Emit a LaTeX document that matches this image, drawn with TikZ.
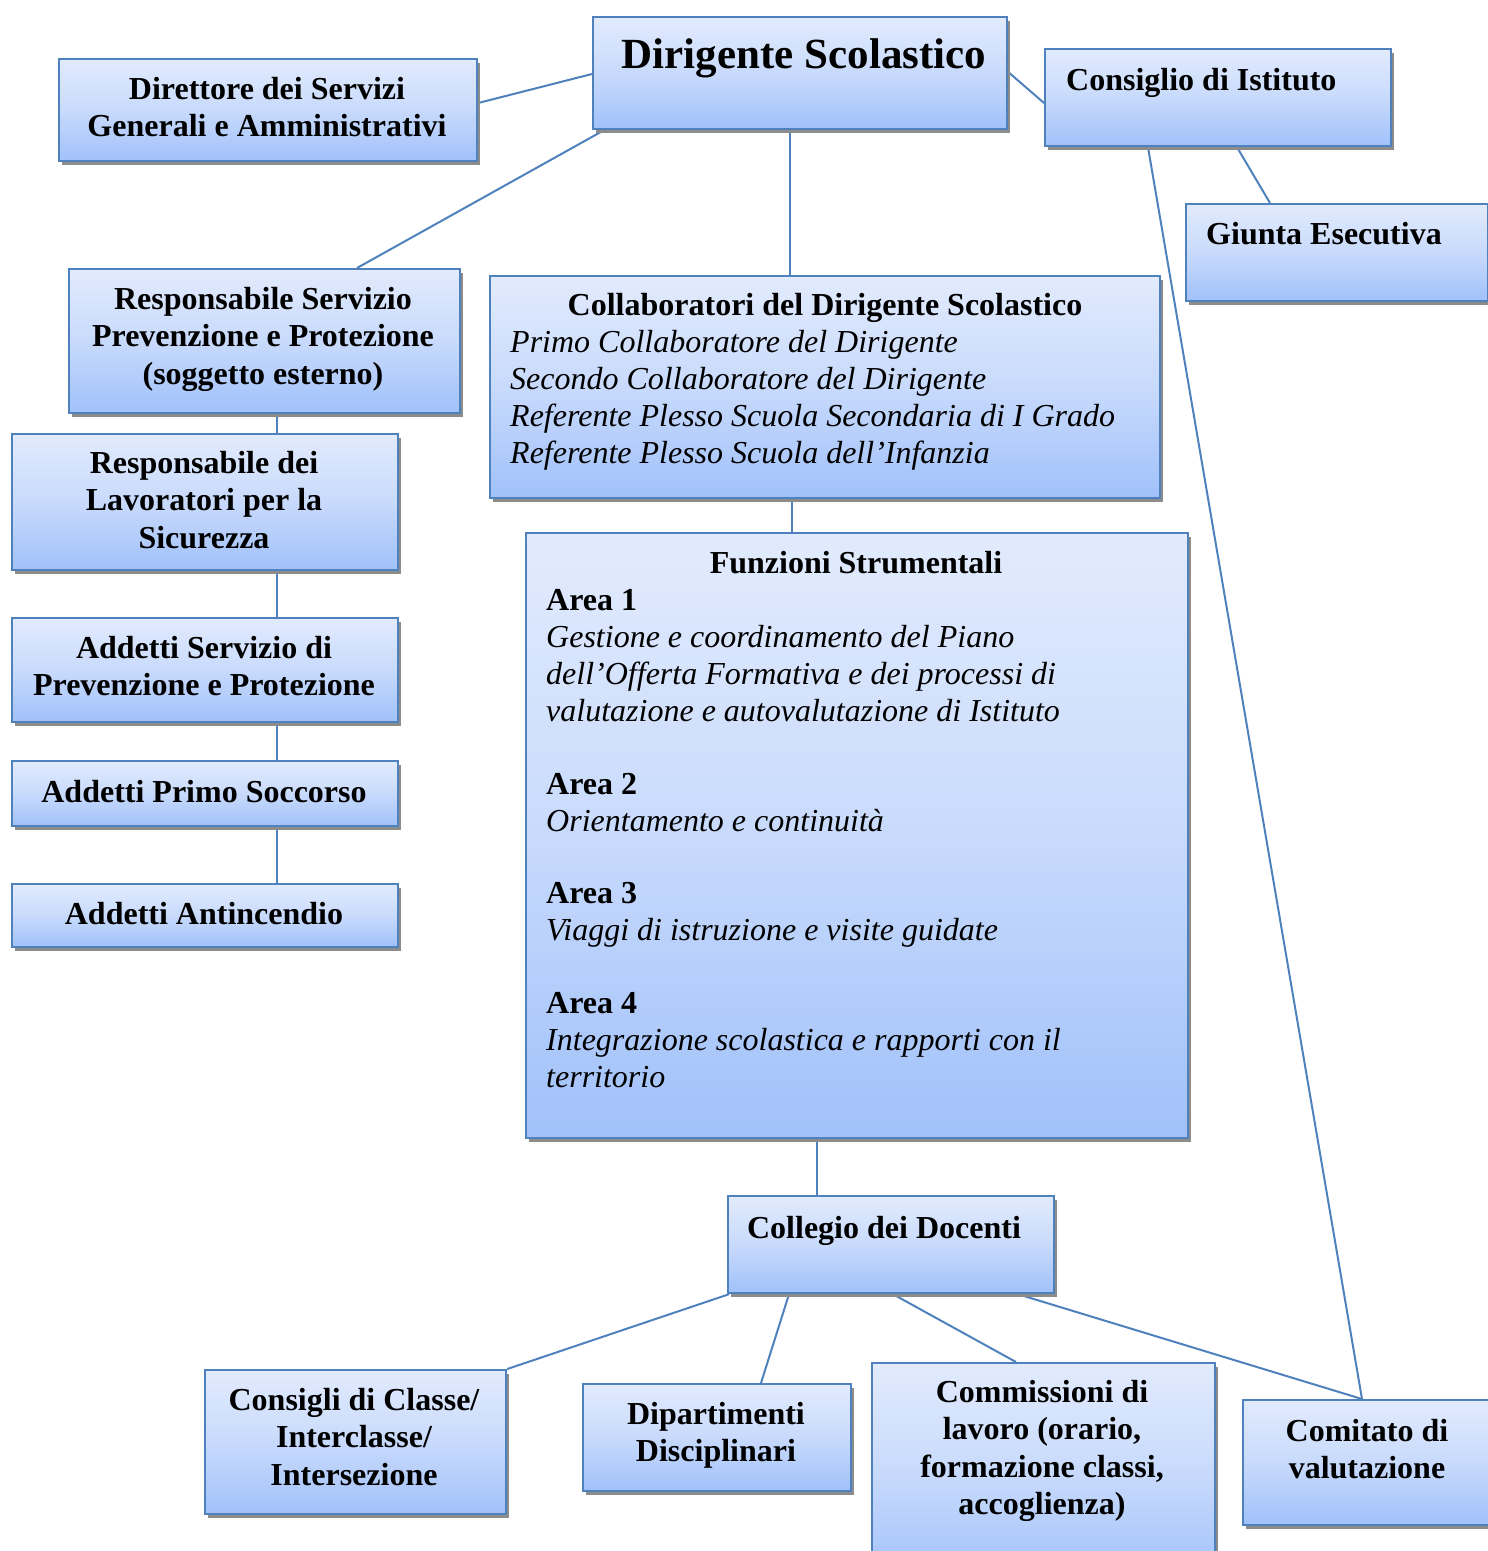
\documentclass[tikz,border=0pt]{standalone}
\usepackage{fontspec}
\setmainfont{Liberation Serif}
\usetikzlibrary{calc,shadows,backgrounds}
\definecolor{bxtop}{RGB}{226,235,253}
\definecolor{bxmid}{RGB}{200,218,252}
\definecolor{bxbot}{RGB}{160,193,250}
\definecolor{bxline}{RGB}{79,129,189}
\definecolor{shad}{RGB}{140,140,140}
\tikzset{
  box/.style={draw=bxline, line width=2.2pt, rectangle, inner sep=0pt, anchor=north west,
    top color=bxtop, bottom color=bxbot, middle color=bxmid,
    drop shadow={shadow xshift=3pt, shadow yshift=-4pt, fill=shad, opacity=1}},
  txt/.style={inner sep=0pt, align=center, anchor=north, font=\fontsize{32}{37.5}\selectfont\bfseries},
  ltxt/.style={inner sep=0pt, align=left, anchor=north west, font=\fontsize{32}{37}\selectfont\mdseries},
  conn/.style={draw=bxline, line width=2pt},
}
\begin{document}
\begin{tikzpicture}[x=1pt,y=-1pt]
\useasboundingbox (0,0) rectangle (1488,1551);
\clip (0,0) rectangle (1488,1551);
% boxes
\node[box, minimum width=414pt, minimum height=112pt] (ds) at (592,16) {};
\node[box, minimum width=418pt, minimum height=102pt] (dsga) at (58,58) {};
\node[box, minimum width=346pt, minimum height=97pt] (ci) at (1044,48) {};
\node[box, minimum width=302pt, minimum height=97pt] (ge) at (1185,203) {};
\node[box, minimum width=391pt, minimum height=144pt] (rspp) at (68,268) {};
\node[box, minimum width=670pt, minimum height=222pt] (coll) at (489,275) {};
\node[box, minimum width=386pt, minimum height=136pt] (rls) at (11,433) {};
\node[box, minimum width=386pt, minimum height=104pt] (aspp) at (11,617) {};
\node[box, minimum width=386pt, minimum height=65pt] (aps) at (11,760) {};
\node[box, minimum width=386pt, minimum height=63pt] (aa) at (11,883) {};
\node[box, minimum width=662pt, minimum height=605pt] (fs) at (525,532) {};
\node[box, minimum width=326pt, minimum height=97pt] (cd) at (727,1195) {};
\node[box, minimum width=301pt, minimum height=144pt] (cc) at (204,1369) {};
\node[box, minimum width=268pt, minimum height=107pt] (dd) at (582,1383) {};
\node[box, minimum width=343pt, minimum height=220pt] (cl) at (871,1362) {};
\node[box, minimum width=280pt, minimum height=125pt] (cv) at (1242,1399) {};
% texts
\node[txt, font=\fontsize{43}{50}\selectfont\bfseries] (dsT) at (804,38) {Dirigente Scolastico};
\node[txt] (dsgaT) at (267,77) {Direttore dei Servizi\\Generali e Amministrativi};
\node[txt, anchor=north west] (ciT) at (1066,68) {Consiglio di Istituto};
\node[txt, anchor=north west] (geT) at (1206,222) {Giunta Esecutiva};
\node[txt] (rsppT) at (263,287) {Responsabile Servizio\\Prevenzione e Protezione\\(soggetto esterno)};
\node[txt] (collT) at (825,293) {Collaboratori del Dirigente Scolastico};
\node[ltxt] (collL) at (510,330) {\textit{Primo Collaboratore del Dirigente}\\\textit{Secondo Collaboratore del Dirigente}\\\textit{Referente Plesso Scuola Secondaria di I Grado}\\\textit{Referente Plesso Scuola dell’Infanzia}};
\node[txt] (rlsT) at (204,451) {Responsabile dei\\Lavoratori per la\\Sicurezza};
\node[txt] (asppT) at (204,636) {Addetti Servizio di\\Prevenzione e Protezione};
\node[txt] (apsT) at (204,780) {Addetti Primo Soccorso};
\node[txt] (aaT) at (204,902) {Addetti Antincendio};
\node[txt] (fsT) at (856,551) {Funzioni Strumentali};
\node[ltxt] (fa1) at (546,589) {\textbf{Area 1}\\\textit{Gestione e coordinamento del Piano}\\\textit{dell’Offerta Formativa e dei processi di}\\\textit{valutazione e autovalutazione di Istituto}};
\node[ltxt] (fa2) at (546,773) {\textbf{Area 2}\\\textit{Orientamento e continuità}};
\node[ltxt] (fa3) at (546,882) {\textbf{Area 3}\\\textit{Viaggi di istruzione e visite guidate}};
\node[ltxt] (fa4) at (546,992) {\textbf{Area 4}\\\textit{Integrazione scolastica e rapporti con il}\\\textit{territorio}};
\node[txt] (cdT) at (884,1216) {Collegio dei Docenti};
\node[txt] (ccT) at (354,1388) {Consigli di Classe/\\Interclasse/\\Intersezione};
\node[txt] (ddT) at (716,1402) {Dipartimenti\\Disciplinari};
\node[txt] (clT) at (1042,1380) {Commissioni di\\lavoro (orario,\\formazione classi,\\accoglienza)};
\node[txt] (cvT) at (1367,1419) {Comitato di\\valutazione};
% connectors
\begin{scope}[on background layer]
\draw[conn] ($(ds.north west)+(0,58)$) -- ($(dsga.north east)+(0,45)$);
\draw[conn] ($(ds.south west)+(12,0)$) -- ($(rspp.north west)+(289,0)$);
\draw[conn] ($(ds.south west)+(198,0)$) -- ($(coll.north west)+(301,0)$);
\draw[conn] ($(ds.north east)+(0,56)$) -- ($(ci.north west)+(0,55)$);
\draw[conn] ($(ci.south west)+(193,0)$) -- ($(ge.north west)+(85,0)$);
\draw[conn] ($(ci.south west)+(104,0)$) -- ($(cv.north west)+(120,0)$);
\draw[conn] ($(rspp.south west)+(209,0)$) -- ($(rls.north west)+(266,0)$);
\draw[conn] ($(rls.south west)+(266,0)$) -- ($(aspp.north west)+(266,0)$);
\draw[conn] ($(aspp.south west)+(266,0)$) -- ($(aps.north west)+(266,0)$);
\draw[conn] ($(aps.south west)+(266,0)$) -- ($(aa.north west)+(266,0)$);
\draw[conn] ($(coll.south west)+(303,0)$) -- ($(fs.north west)+(267,0)$);
\draw[conn] ($(fs.south west)+(292,0)$) -- ($(cd.north west)+(90,0)$);
\draw[conn] ($(cd.south west)+(2,0)$) -- (cc.north east);
\draw[conn] ($(cd.south west)+(62,0)$) -- ($(dd.north west)+(179,0)$);
\draw[conn] ($(cd.south west)+(166,0)$) -- ($(cl.north west)+(145,0)$);
\draw[conn] ($(cd.south west)+(291,0)$) -- ($(cv.north west)+(120,0)$);
\end{scope}
\end{tikzpicture}
\end{document}
